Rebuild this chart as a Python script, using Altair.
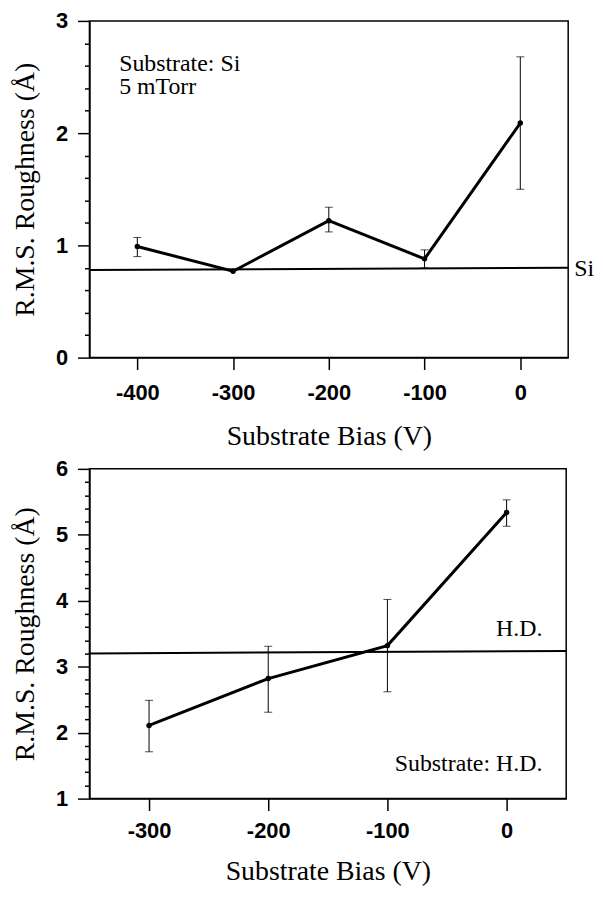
import altair as alt
import pandas as pd

# ---- data ----
top_bias = [-400, -300, -200, -100, 0]
top_rms = [0.99, 0.77, 1.22, 0.88, 2.09]
top_lo = [0.90, None, 1.12, 0.80, 1.50]
top_hi = [1.07, None, 1.34, 0.96, 2.68]
si_ref_x = [-450, 50]
si_ref_y = [0.78, 0.80]

bot_bias = [-300, -200, -100, 0]
bot_rms = [2.11, 2.82, 3.32, 5.34]
bot_lo = [1.71, 2.31, 2.62, 5.13]
bot_hi = [2.49, 3.31, 4.02, 5.53]
hd_ref_x = [-350, 50]
hd_ref_y = [3.20, 3.24]

top_xticks = [-400, -300, -200, -100, 0]
top_yticks = [0, 0.2, 0.4, 0.6, 0.8, 1, 1.2, 1.4, 1.6, 1.8, 2, 2.2, 2.4, 2.6, 2.8, 3]
bot_xticks = [-300, -200, -100, 0]
bot_yticks = [1, 1.2, 1.4, 1.6, 1.8, 2, 2.2, 2.4, 2.6, 2.8, 3, 3.2, 3.4, 3.6, 3.8,
              4, 4.2, 4.4, 4.6, 4.8, 5, 5.2, 5.4, 5.6, 5.8, 6]

top_text = ["Substrate: Si\n5 mTorr"]
top_text_x = [-419]
top_text_y = [2.62]
si_label = ["Si"]
si_label_x = [50]
si_label_y = [0.79]

bot_text = ["H.D.", "Substrate: H.D."]
bot_text_x = [30, 30]
bot_text_y = [3.57, 1.52]

XTITLE = "Substrate Bias (V)"
YTITLE = "R.M.S. Roughness (Å)"


def x_axis(vals, lpad, tpad):
    return alt.Axis(values=vals, title=XTITLE, tickSize=12, labelPadding=lpad,
                    labelExpr="'' + datum.value", labelFlush=False,
                    titlePadding=tpad, grid=False)


def y_axis(vals):
    return alt.Axis(values=vals, title=YTITLE, grid=False,
                    labelExpr="datum.value % 1 == 0 ? ('' + datum.value) : ''",
                    tickSize={"condition": {"test": "datum.value % 1 != 0", "value": 5}, "value": 12},
                    labelPadding=10, titlePadding=16)


def panel(bias, rms, lo, hi, rx, ry, texts, xdom, ydom, xt, yt, w, h, lpad, tpad):
    df = pd.DataFrame({"bias": bias, "rms": rms, "lo": lo, "hi": hi})
    err = df.dropna()
    ref = pd.DataFrame({"x0": [rx[0]], "x1": [rx[1]], "y0": [ry[0]], "y1": [ry[1]]})
    xs = alt.Scale(domain=xdom, nice=False, zero=False)
    ys = alt.Scale(domain=ydom, nice=False, zero=False)
    X = lambda f: alt.X(f, type="quantitative", scale=xs, axis=x_axis(xt, lpad, tpad))
    Y = lambda f: alt.Y(f, type="quantitative", scale=ys, axis=y_axis(yt))

    line = alt.Chart(df).mark_line(color="black", strokeWidth=3).encode(x=X("bias"), y=Y("rms"))
    pts = alt.Chart(df).mark_circle(color="black", size=30, opacity=1).encode(x=X("bias"), y=Y("rms"))
    bars = alt.Chart(err).mark_rule(color="black", strokeWidth=1).encode(
        x=X("bias"), y=Y("lo"), y2="hi")
    cap_lo = alt.Chart(err).mark_tick(color="black", orient="horizontal", size=8, thickness=1).encode(
        x=X("bias"), y=Y("lo"))
    cap_hi = alt.Chart(err).mark_tick(color="black", orient="horizontal", size=8, thickness=1).encode(
        x=X("bias"), y=Y("hi"))
    refl = alt.Chart(ref).mark_rule(color="black", strokeWidth=2).encode(
        x=X("x0"), x2="x1", y=Y("y0"), y2="y1")
    layers = [refl, bars, cap_lo, cap_hi, line, pts]
    for (tdf, align, dx) in texts:
        layers.append(alt.Chart(tdf).mark_text(font="Liberation Serif", fontSize=24, color="black",
                                               align=align, baseline="middle", dx=dx,
                                               lineBreak="\n", lineHeight=24).encode(
            x=X("x"), y=Y("y"), text="t:N"))
    return alt.layer(*layers).properties(width=w, height=h)


top_texts = [
    (pd.DataFrame({"x": top_text_x, "y": top_text_y, "t": top_text}), "left", 0),
    (pd.DataFrame({"x": si_label_x, "y": si_label_y, "t": si_label}), "left", 6),
]
bot_texts = [
    (pd.DataFrame({"x": bot_text_x, "y": bot_text_y, "t": bot_text}), "right", 0),
]

top = panel(top_bias, top_rms, top_lo, top_hi, si_ref_x, si_ref_y, top_texts,
            [-450, 50], [0, 3], top_xticks, top_yticks, 482, 339, 13, 19)
bot = panel(bot_bias, bot_rms, bot_lo, bot_hi, hd_ref_x, hd_ref_y, bot_texts,
            [-350, 50], [1, 6], bot_xticks, bot_yticks, 480, 332, 10, 16)

chart = alt.vconcat(top, bot, spacing=6).properties(
    padding={"left": 3, "top": -2, "right": 0, "bottom": 0},
    background="white",
).configure_view(stroke="black", strokeWidth=1.5).configure_axis(
    labelFont="Liberation Sans", labelFontWeight="bold", labelFontSize=22, labelColor="black",
    titleFont="Liberation Serif", titleFontWeight="normal", titleFontSize=28, titleColor="black",
    tickColor="black", domainColor="black", tickWidth=1.5, domainWidth=1.5
)

chart.save("out.html", embed_options={"renderer": "svg", "actions": False})
